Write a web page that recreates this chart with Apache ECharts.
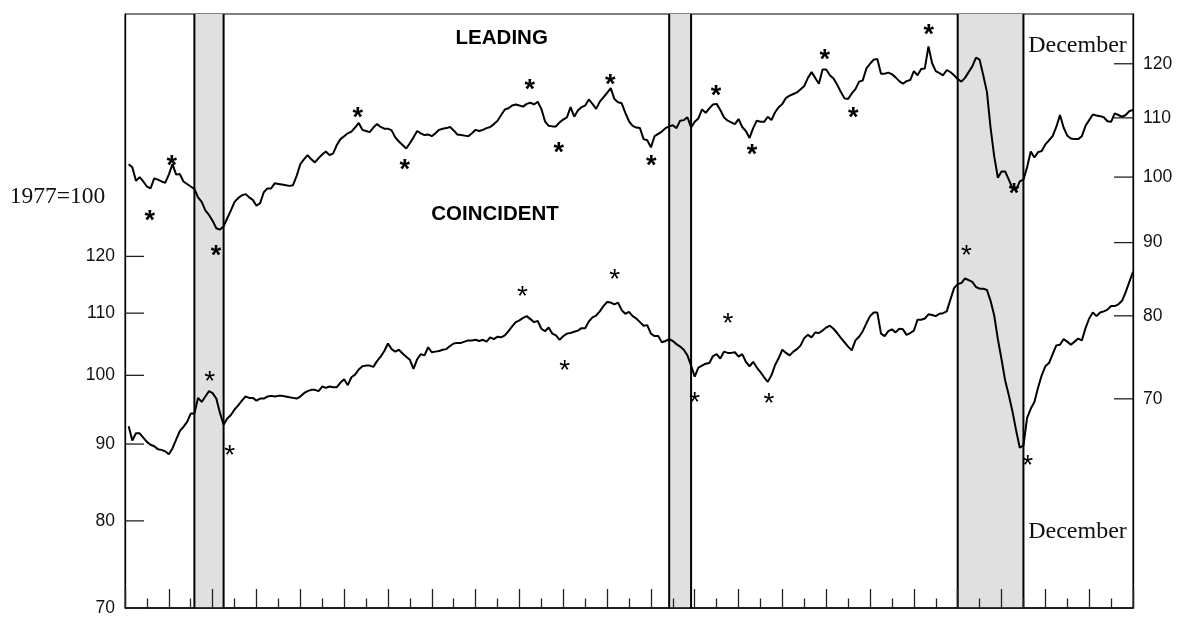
<!DOCTYPE html>
<html><head><meta charset="utf-8">
<script src="https://cdn.jsdelivr.net/npm/echarts@6/dist/echarts.min.js"></script>
<style>html,body{margin:0;padding:0;background:#fff}#c{width:1177px;height:620px}</style>
</head><body><div id="c"></div>
<script>
// Monthly index values (1977=100), 276 months
const leading = [
102.1,101.6,99.4,100.0,99.3,98.5,98.2,99.8,99.6,99.3,
99.1,100.4,102.1,100.4,100.5,99.3,98.9,98.5,98.1,96.8,
96.1,94.8,94.1,93.2,92.1,91.9,92.4,93.6,94.8,96.1,
96.7,97.1,97.3,96.8,96.4,95.5,95.9,97.6,98.2,98.2,
99.0,98.9,98.8,98.7,98.6,98.7,100.2,102.1,102.9,103.6,
102.9,102.4,103.1,103.7,104.2,103.6,103.9,105.3,106.3,106.8,
107.3,107.6,108.3,109.1,107.9,107.7,107.5,108.3,108.9,108.4,
108.1,108.1,107.8,106.6,105.9,105.3,104.7,105.6,106.6,107.7,
107.3,107.0,107.1,106.8,107.3,107.9,108.1,108.2,108.4,107.8,
107.1,107.0,106.9,106.8,107.3,107.9,107.7,107.9,108.2,108.4,
108.9,109.5,110.5,111.5,111.7,112.2,112.4,112.2,112.0,112.5,
112.7,112.4,112.9,111.6,109.4,108.6,108.5,108.5,109.2,109.7,
110.1,111.9,110.2,111.3,111.9,112.2,113.3,112.5,111.6,112.9,
113.7,114.5,115.4,113.4,112.8,112.6,110.9,109.4,108.6,108.3,
108.2,106.3,106.1,104.9,106.8,107.2,107.6,108.2,108.5,108.7,
108.2,109.5,109.6,110.1,108.3,109.3,109.9,111.5,110.9,111.7,
112.4,112.5,111.4,110.1,109.5,109.2,108.9,109.8,108.4,107.7,
106.5,108.2,109.5,109.3,109.3,110.2,109.6,111.0,111.9,112.5,
113.6,114.0,114.3,114.6,115.2,115.8,117.3,118.4,117.3,116.2,
118.9,118.9,117.8,117.2,116.0,114.7,113.5,113.4,114.4,115.2,
116.6,116.8,119.1,120.0,120.8,120.9,118.1,118.1,118.3,118.0,
117.4,116.7,116.2,116.7,116.9,118.6,117.8,119.0,119.1,123.4,
120.1,118.6,118.2,117.8,118.8,118.4,117.8,117.1,116.6,117.3,
118.4,119.5,121.2,120.8,117.8,114.7,108.3,103.4,99.9,100.9,
100.9,99.6,98.2,98.0,99.3,99.6,101.6,104.2,103.2,104.1,
104.3,105.4,106.1,106.8,108.4,110.5,108.3,106.9,106.4,106.3,
106.3,106.8,108.6,109.6,110.6,110.4,110.3,110.1,109.4,109.3,
110.8,110.5,110.2,110.5,111.2,111.4
];
const coincident = [
92.5,90.5,91.5,91.5,90.9,90.3,89.9,89.7,89.3,89.2,
89.0,88.6,89.4,90.6,91.8,92.4,93.1,94.3,94.3,96.6,
96.0,96.8,97.6,97.3,96.5,94.4,92.7,93.6,94.1,94.9,
95.5,96.2,96.8,96.6,96.6,96.2,96.5,96.5,96.8,96.9,
96.8,96.9,96.9,96.8,96.7,96.6,96.5,96.8,97.3,97.6,
97.8,97.8,97.6,98.3,98.1,98.3,98.2,98.2,98.9,99.4,
98.5,99.7,100.1,100.9,101.4,101.5,101.5,101.3,102.2,102.9,
103.8,105.0,104.1,103.7,104.0,103.4,102.9,102.4,101.0,102.5,
103.3,103.1,104.4,103.6,103.7,103.8,104.0,104.1,104.6,105.0,
105.1,105.1,105.3,105.5,105.5,105.6,105.4,105.6,105.3,106.0,
105.7,106.1,106.0,106.3,107.0,107.8,108.5,108.8,109.2,109.5,
109.0,108.5,108.7,107.4,107.0,107.6,106.6,106.3,105.6,106.2,
106.6,106.7,106.9,107.1,107.5,107.5,108.6,109.3,109.6,110.3,
111.2,111.9,111.8,111.5,111.8,110.5,109.9,110.2,109.5,109.1,
108.5,107.9,108.0,106.6,106.2,106.2,105.2,105.4,105.7,105.4,
104.9,104.5,104.0,103.1,101.5,99.8,101.2,101.5,101.8,101.9,
103.0,103.3,102.6,103.7,103.5,103.5,103.6,102.9,103.3,102.1,
101.4,102.1,101.2,100.5,99.7,99.0,100.0,101.6,102.7,104.0,
103.5,103.1,103.7,104.1,104.7,105.9,106.4,106.0,106.8,106.7,
107.1,107.6,107.9,107.4,106.7,105.9,105.2,104.5,103.9,105.5,
106.1,107.0,108.3,109.5,110.1,110.1,106.6,106.2,107.0,107.3,
106.8,107.4,107.3,106.4,106.7,107.1,108.9,108.9,109.1,109.8,
109.7,109.5,109.9,110.0,110.3,112.3,114.3,115.0,115.2,116.0,
115.7,115.4,114.5,114.2,114.2,114.0,112.1,109.6,105.7,102.5,
99.2,97.0,94.6,91.9,89.5,89.8,93.7,95.0,96.0,98.1,
100.0,101.4,101.9,103.3,104.7,104.8,105.7,105.3,104.8,105.3,
105.8,105.5,107.5,109.1,110.1,109.5,110.1,110.3,110.6,111.2,
111.2,111.5,112.1,113.6,115.4,117.2
];
// Recession bands (month index start, end)
const recessions = [[19, 27], [149, 155], [228, 246]];
// Tick labels
const leftTicks = [70, 80, 90, 100, 110, 120];
const rightTicks = [70, 80, 90, 100, 110, 120];
// Turning-point asterisks [month, value]
const leadingStars = [[6.8,94.2],[12.8,102.9],[24.9,89.0],[63.7,111.2],[76.6,102.2],[110.8,116.3],[118.8,105.1],[132.9,117.1],[144.1,102.8],[161.8,115.2],[171.7,104.7],[191.6,122.0],[199.4,111.1],[220.1,127.0],[243.4,98.3]];
const coincidentStars = [[23.2,100.1],[28.7,89.3],[108.8,114.0],[120.4,101.8],[134.1,116.9],[156.0,96.9],[165.1,109.4],[176.3,96.7],[230.4,121.3],[247.2,87.9]];

const SANS = '"Liberation Sans", Arial, sans-serif';
const SERIF = '"Liberation Serif", "Times New Roman", serif';

const chart = echarts.init(document.getElementById('c'), null, {renderer: 'canvas'});

function tickSeries(ticks, axisIdx, side) {
  return {
    type: 'custom', yAxisIndex: axisIdx, clip: false, silent: true, z: 5,
    data: ticks.map(t => [side === 'left' ? 0 : 276, t]),
    encode: {x: 0, y: 1},
    renderItem: function (params, api) {
      const p = api.coord([api.value(0), api.value(1)]);
      const dir = side === 'left' ? 1 : -1;
      return {type: 'group', children: [
        {type: 'line', shape: {x1: p[0], y1: p[1], x2: p[0] + dir * 19, y2: p[1]}, style: {stroke: '#222', lineWidth: 1.3}},
        {type: 'text', x: p[0] - dir * 10, y: p[1], style: {text: String(api.value(1)), align: side === 'left' ? 'right' : 'left', verticalAlign: 'middle', fontFamily: SANS, fontSize: 17.5, fill: '#111'}}
      ]};
    }
  };
}
function starSeries(stars, axisIdx, size, weight) {
  return {
    type: 'custom', yAxisIndex: axisIdx, clip: false, silent: true, z: 6,
    data: stars, encode: {x: 0, y: 1},
    renderItem: function (params, api) {
      const p = api.coord([api.value(0), api.value(1)]);
      return {type: 'text', x: p[0], y: p[1] + size * 0.26, style: {text: '*', align: 'center', verticalAlign: 'middle', fontSize: size, fontWeight: weight, fontFamily: SANS, fill: '#000'}};
    }
  };
}

chart.setOption({
  animation: false,
  backgroundColor: '#fff',
  grid: {left: 125, right: 44, top: 14, bottom: 12, show: true, borderColor: '#000', borderWidth: 1, backgroundColor: 'transparent', outerBoundsMode: 'none'},
  xAxis: {
    type: 'value', min: 0, max: 276, interval: 12, z: 4,
    axisLabel: {show: false}, splitLine: {show: false},
    axisLine: {show: true, lineStyle: {color: '#000', width: 1.5}},
    axisTick: {show: true, inside: true, length: 19, lineStyle: {color: '#222', width: 1.3}},
    minorTick: {show: true, splitNumber: 2, length: 9.5, lineStyle: {color: '#222', width: 1.3}}
  },
  yAxis: [
    {type: 'log', min: 70, max: 174, position: 'left', z: 4,
     axisLine: {show: true, lineStyle: {color: '#000', width: 1.3}}, axisTick: {show: false}, axisLabel: {show: false}, splitLine: {show: false}, minorTick: {show: false}},
    {type: 'log', min: 50, max: 130, position: 'right', z: 4,
     axisLine: {show: true, lineStyle: {color: '#000', width: 1.3}}, axisTick: {show: false}, axisLabel: {show: false}, splitLine: {show: false}, minorTick: {show: false}}
  ],
  graphic: [
    {type: 'text', x: 501.7, y: 38.8, style: {text: 'LEADING', align: 'center', verticalAlign: 'middle', fontFamily: SANS, fontWeight: 'bold', fontSize: 20.5, fill: '#000'}},
    {type: 'text', x: 495, y: 214.5, style: {text: 'COINCIDENT', align: 'center', verticalAlign: 'middle', fontFamily: SANS, fontWeight: 'bold', fontSize: 20.5, fill: '#000'}},
    {type: 'text', x: 57.5, y: 197, style: {text: '1977=100', align: 'center', verticalAlign: 'middle', fontFamily: SERIF, fontSize: 23.5, fill: '#111'}},
    {type: 'text', x: 1077.5, y: 45.5, style: {text: 'December', align: 'center', verticalAlign: 'middle', fontFamily: SERIF, fontSize: 24, fill: '#111'}},
    {type: 'text', x: 1077.5, y: 531.5, style: {text: 'December', align: 'center', verticalAlign: 'middle', fontFamily: SERIF, fontSize: 24, fill: '#111'}}
  ],
  series: [
    {
      type: 'custom', yAxisIndex: 0, silent: true, z: 1, clip: false,
      data: recessions.map(r => [r[0], r[1], 100]), encode: {x: [0, 1], y: 2},
      renderItem: function (params, api) {
        const cs = params.coordSys;
        const x0 = api.coord([api.value(0), 100])[0];
        const x1 = api.coord([api.value(1), 100])[0];
        return {type: 'group', children: [
          {type: 'rect', shape: {x: x0, y: cs.y, width: x1 - x0, height: cs.height}, style: {fill: '#e0e0e0'}},
          {type: 'line', shape: {x1: x0, y1: cs.y, x2: x0, y2: cs.y + cs.height}, style: {stroke: '#000', lineWidth: 2}},
          {type: 'line', shape: {x1: x1, y1: cs.y, x2: x1, y2: cs.y + cs.height}, style: {stroke: '#000', lineWidth: 2}}
        ]};
      }
    },
    {name: 'Leading', type: 'line', yAxisIndex: 1, z: 3, symbol: 'none', showSymbol: false,
     lineStyle: {color: '#000', width: 2}, data: leading.map((v, i) => [i + 1, v])},
    {name: 'Coincident', type: 'line', yAxisIndex: 0, z: 3, symbol: 'none', showSymbol: false,
     lineStyle: {color: '#000', width: 2}, data: coincident.map((v, i) => [i + 1, v])},
    tickSeries(leftTicks, 0, 'left'),
    tickSeries(rightTicks, 1, 'right'),
    starSeries(leadingStars, 1, 27, 'bold'),
    starSeries(coincidentStars, 0, 28, 'normal')
  ]
});
</script>
</body></html>
